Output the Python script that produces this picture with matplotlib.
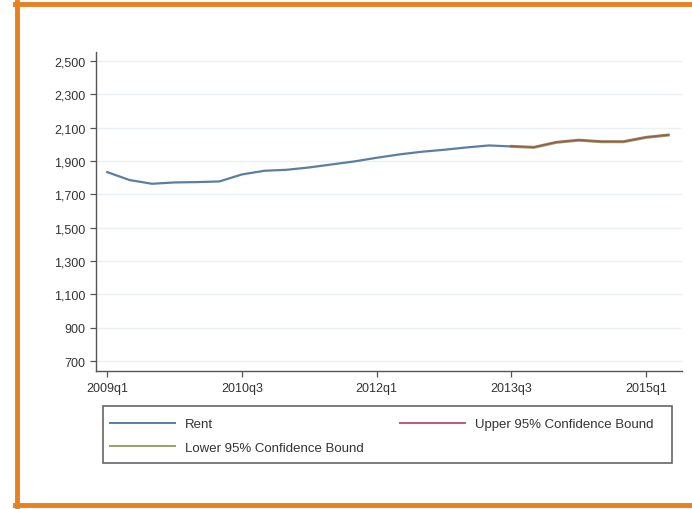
import numpy as np
import matplotlib
matplotlib.use("Agg")
import matplotlib.pyplot as plt
from matplotlib.lines import Line2D
from matplotlib.patches import Rectangle
from matplotlib.ticker import FuncFormatter

plt.rcParams['font.family'] = ['Liberation Sans', 'DejaVu Sans']

#Quarterly periods shown on the chart
quarters = ['2009q1', '2009q2', '2009q3', '2009q4', '2010q1', '2010q2', '2010q3', '2010q4',
            '2011q1', '2011q2', '2011q3', '2011q4', '2012q1', '2012q2', '2012q3', '2012q4',
            '2013q1', '2013q2', '2013q3', '2013q4', '2014q1', '2014q2', '2014q3', '2014q4',
            '2015q1', '2015q2']
tick_labels = ['2009q1', '2010q3', '2012q1', '2013q3', '2015q1']
y_ticks = [700, 900, 1100, 1300, 1500, 1700, 1900, 2100, 2300, 2500]

#Observed rent (2009q1 - 2013q3)
rent = [1834, 1786, 1764, 1772, 1774, 1778, 1820, 1842, 1848, 1862, 1880, 1898, 1920,
        1940, 1956, 1968, 1982, 1994, 1988]
#Forecast bounds (2013q3 - 2015q2)
upper = [1991, 1985, 2015, 2028, 2019, 2019, 2045, 2059]
lower = [1986, 1980, 2010, 2023, 2014, 2014, 2040, 2054]

W, H = 692, 510
fig = plt.figure(figsize=(W/100, H/100), dpi=100)
ax = fig.add_axes([96/W, 1-372/H, (682-96)/W, (372-53)/H])

x_all = np.arange(len(quarters))
x_rent = x_all[:len(rent)]
x_fc = x_all[len(rent)-1:len(rent)-1+len(upper)]

c_rent = '#5b7ea3'
c_up = '#c9566e'
c_low = '#9aa06a'

ax.plot(x_rent, rent, color=c_rent, lw=1.6)
ax.plot(x_fc, lower, color=c_low, lw=1.6)
ax.plot(x_fc, upper, color='#8a4a3a', lw=1.6, alpha=0.75)

ax.set_xlim(-0.5, 25.6)
ax.set_ylim(640, 2555)
ax.set_yticks(y_ticks)
ax.yaxis.set_major_formatter(FuncFormatter(lambda v, p: f'{int(v):,}'))
ax.set_xticks([quarters.index(t) for t in tick_labels])
ax.set_xticklabels(tick_labels)

ax.grid(axis='y', color='#eaf0f4', lw=1.0)
ax.set_axisbelow(True)
for s in ['top', 'right']:
    ax.spines[s].set_visible(False)
for s in ['left', 'bottom']:
    ax.spines[s].set_color('#555555')
    ax.spines[s].set_linewidth(1.0)
ax.tick_params(colors='#555555', labelcolor='#333333', labelsize=9, length=4.5, width=0.9)
ax.tick_params(axis='y', pad=3)

#Legend below the plot (box drawn separately)
handles = [Line2D([], [], color=c_rent, lw=1.4),
           Line2D([], [], color=c_low, lw=1.4),
           Line2D([], [], color=c_up, lw=1.4)]
labels = ['Rent', 'Lower 95% Confidence Bound', 'Upper 95% Confidence Bound']
leg = fig.legend(handles, labels, ncol=2, loc='upper left',
                 bbox_to_anchor=(110/W, 1-419/H), borderaxespad=0, borderpad=0,
                 fontsize=9.5, handlelength=4.9, handletextpad=0.76, labelspacing=0.85,
                 columnspacing=2.8, frameon=False)
for t in leg.get_texts():
    t.set_color('#333333')
fig.add_artist(Rectangle((103/W, 1-464/H), (672-103)/W, (464-407)/H, transform=fig.transFigure,
                         fill=False, edgecolor='#666666', lw=1.2))

#Orange frame around the figure
orange = '#e8801f'
fig.add_artist(Line2D([15/W, 1], [1-5/H, 1-5/H], color=orange, lw=3.5, transform=fig.transFigure))
fig.add_artist(Line2D([17/W, 17/W], [1-3/H, 1-508/H], color=orange, lw=3.5, transform=fig.transFigure))
fig.add_artist(Line2D([15/W, 1], [1-506/H, 1-506/H], color=orange, lw=3.5, transform=fig.transFigure))

fig.savefig('out.png', dpi=100)
